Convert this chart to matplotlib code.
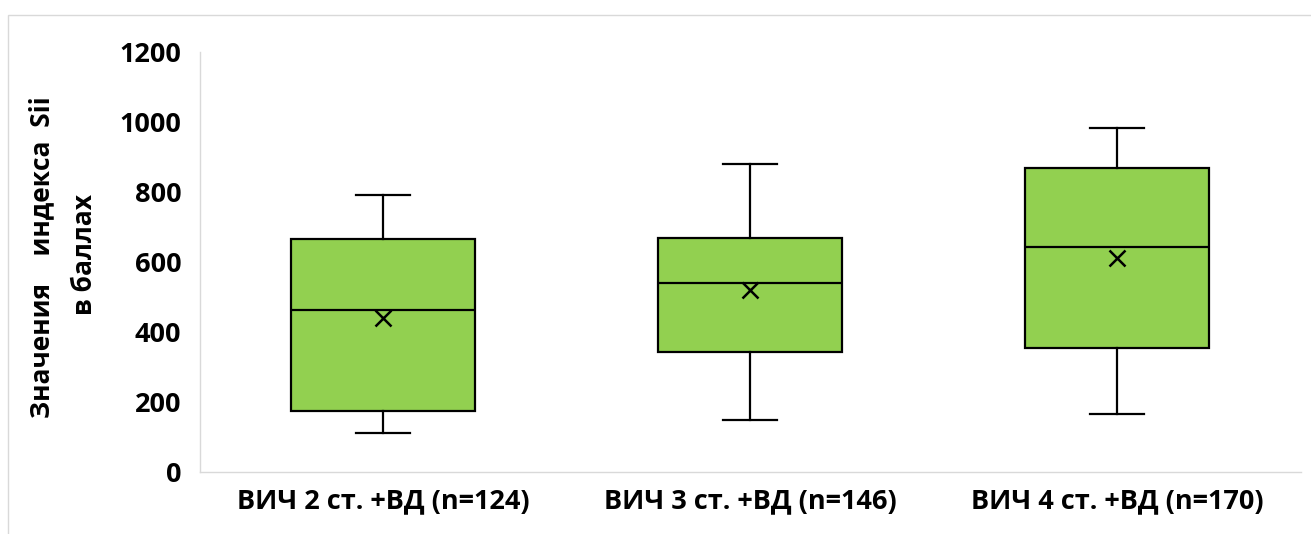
import matplotlib.pyplot as plt
from matplotlib.patches import Rectangle

# values
groups = ['ВИЧ 2 ст. +ВД (n=124)', 'ВИЧ 3 ст. +ВД (n=146)', 'ВИЧ 4 ст. +ВД (n=170)']
whis_low = [111, 149, 166]
q1 = [174, 343, 354]
median = [463, 540, 643]
mean = [440, 520, 611]
q3 = [666, 669, 869]
whis_high = [791, 880, 983]

plt.rcParams['font.family'] = ['Open Sans', 'DejaVu Sans']
plt.rcParams['font.weight'] = 'bold'

fig = plt.figure(figsize=(13.11, 5.34), dpi=100)
ax = fig.add_axes([199.5/1311, 1-472/534, 1101/1311, 420/534])

stats = []
for i in range(len(groups)):
    stats.append({'label': groups[i], 'whislo': whis_low[i], 'q1': q1[i], 'med': median[i],
                  'mean': mean[i], 'q3': q3[i], 'whishi': whis_high[i], 'fliers': []})

ax.bxp(stats, positions=[1, 2, 3], widths=0.5, capwidths=0.147, showmeans=True,
       patch_artist=True, showfliers=False,
       boxprops=dict(facecolor='#92D050', edgecolor='black', linewidth=1.6),
       medianprops=dict(color='black', linewidth=1.6),
       whiskerprops=dict(color='black', linewidth=1.6),
       capprops=dict(color='black', linewidth=1.6),
       meanprops=dict(marker='x', markeredgecolor='black', markersize=11, markeredgewidth=1.8))

ax.set_xlim(0.5, 3.5)
ax.set_ylim(0, 1200)
ax.set_yticks(range(0, 1201, 200))
ax.tick_params(length=0, labelsize=19.5)
ax.tick_params(axis='y', pad=13)
ax.tick_params(axis='x', pad=12)
for s in ['top', 'right']:
    ax.spines[s].set_visible(False)
for s in ['left', 'bottom']:
    ax.spines[s].set_color('#d9d9d9')
    ax.spines[s].set_linewidth(1.0)

fig.text(42/1311, 1-257/534, 'Значения    индекса  Sii', rotation=90, ha='center', va='center',
         fontsize=19, fontweight='bold')
fig.text(85/1311, 1-255/534, 'в баллах', rotation=90, ha='center', va='center',
         fontsize=19, fontweight='bold')

# outer chart border
fig.patches.append(Rectangle((8/1311, -0.05), 1.1, 1-15/534 + 0.05, transform=fig.transFigure,
                             fill=False, edgecolor='#d9d9d9', linewidth=1.0))

fig.savefig('out.png', dpi=100)
